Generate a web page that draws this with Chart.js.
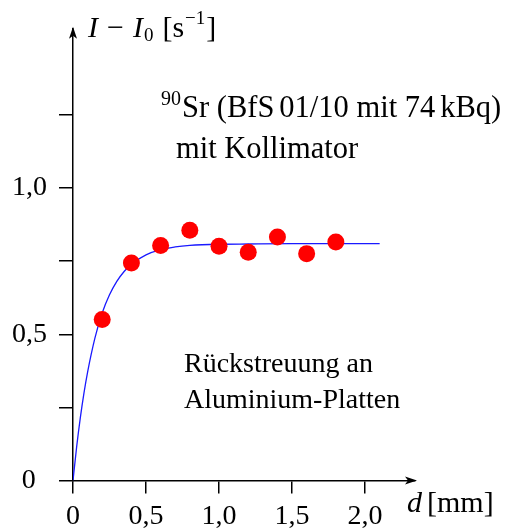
<!DOCTYPE html>
<html>
<head>
<meta charset="utf-8">
<script src="https://cdn.jsdelivr.net/npm/chart.js@4.4.0/dist/chart.umd.min.js"></script>
<style>
  html, body { margin: 0; padding: 0; background: #fff; }
</style>
</head>
<body>
<canvas id="chart" width="508" height="531"></canvas>
<script>
// measured points: Al thickness d [mm] vs. I - I0 [1/s]
const thickness = [0.2, 0.4, 0.6, 0.8, 1.0, 1.2, 1.4, 1.6, 1.8];
const rate = [0.551, 0.744, 0.804, 0.856, 0.801, 0.781, 0.833, 0.776, 0.816];

// fitted curve
const fitD = [0, 0.025, 0.05, 0.075, 0.1, 0.15, 0.2, 0.25, 0.3, 0.35, 0.4, 0.5, 0.6, 0.7, 0.8, 1.0, 1.2, 1.5, 1.8, 2.1];
const fitRate = [0, 0.115, 0.214, 0.299, 0.371, 0.487, 0.573, 0.635, 0.681, 0.715, 0.740, 0.772, 0.790, 0.799, 0.804, 0.808, 0.809, 0.810, 0.810, 0.810];

const xTicks = [0, 0.5, 1.0, 1.5, 2.0];
const xTickLabels = ['0', '0,5', '1,0', '1,5', '2,0'];
const yTicks = [0, 0.25, 0.5, 0.75, 1.0, 1.25];
const yTickLabels = ['0\u2009\u2009', '', '0,5', '', '1,0', ''];

const serif = '"Liberation Serif", "DejaVu Serif", serif';

function drawRuns(ctx, x, y, runs) {
  runs.forEach(r => {
    ctx.font = r.font;
    ctx.fillText(r.text, x, y + (r.dy || 0));
    x += ctx.measureText(r.text).width + (r.gap || 0);
  });
}

const extras = {
  id: 'extras',
  afterDraw(chart) {
    const ctx = chart.ctx;
    const a = chart.chartArea;
    ctx.save();
    ctx.fillStyle = '#000';
    ctx.textBaseline = 'alphabetic';
    ctx.textAlign = 'left';

    // arrow heads
    ctx.beginPath();
    ctx.moveTo(a.left, a.top - 2);
    ctx.lineTo(a.left - 4, a.top + 10);
    ctx.lineTo(a.left, a.top + 7);
    ctx.lineTo(a.left + 4, a.top + 10);
    ctx.closePath();
    ctx.fill();
    ctx.beginPath();
    ctx.moveTo(a.right + 2, a.bottom);
    ctx.lineTo(a.right - 10, a.bottom - 4);
    ctx.lineTo(a.right - 7, a.bottom);
    ctx.lineTo(a.right - 10, a.bottom + 4);
    ctx.closePath();
    ctx.fill();

    // axis titles
    drawRuns(ctx, 88, 37, [
      { text: 'I', font: 'italic 30px ' + serif, gap: 9 },
      { text: '\u2212', font: '30px ' + serif, gap: 9 },
      { text: 'I', font: 'italic 30px ' + serif, gap: 1 },
      { text: '0', font: '19px ' + serif, dy: 4, gap: 9 },
      { text: '[s', font: '30px ' + serif, gap: 1 },
      { text: '\u22121', font: '19px ' + serif, dy: -13, gap: 1 },
      { text: ']', font: '30px ' + serif }
    ]);
    drawRuns(ctx, 407, 512, [
      { text: 'd', font: 'italic 30px ' + serif, gap: 5 },
      { text: '[mm]', font: '30px ' + serif }
    ]);

    // annotations
    drawRuns(ctx, 161, 117, [
      { text: '90', font: '20px ' + serif, dy: -12, gap: 1 },
      { text: 'Sr (BfS', font: '30.5px ' + serif, gap: 5 },
      { text: '01/10 mit 74', font: '30.5px ' + serif, gap: 5 },
      { text: 'kBq)', font: '30.5px ' + serif }
    ]);
    drawRuns(ctx, 176, 158, [{ text: 'mit Kollimator', font: '30.5px ' + serif }]);
    drawRuns(ctx, 184, 372, [{ text: 'R\u00fcckstreuung an', font: '28px ' + serif }]);
    drawRuns(ctx, 184, 408, [{ text: 'Aluminium-Platten', font: '28px ' + serif }]);
    ctx.restore();
  }
};

new Chart(document.getElementById('chart'), {
  type: 'scatter',
  data: {
    datasets: [
      {
        label: 'Messwerte',
        data: thickness.map((d, i) => ({ x: d, y: rate[i] })),
        pointRadius: 8.5,
        pointHoverRadius: 8.5,
        backgroundColor: '#ff0000',
        borderWidth: 0,
        order: 1
      },
      {
        label: 'Fit',
        data: fitD.map((d, i) => ({ x: d, y: fitRate[i] })),
        showLine: true,
        pointRadius: 0,
        borderColor: '#1a1aff',
        borderWidth: 1.3,
        cubicInterpolationMode: 'monotone',
        order: 2
      }
    ]
  },
  options: {
    responsive: false,
    animation: false,
    devicePixelRatio: 1,
    layout: { padding: { top: 28, right: 93, left: 0, bottom: 0 } },
    plugins: { legend: { display: false }, tooltip: { enabled: false } },
    scales: {
      x: {
        type: 'linear',
        min: 0,
        max: 2.342,
        afterFit: s => { s.height = 50.5; },
        afterBuildTicks: s => { s.ticks = xTicks.map(v => ({ value: v })); },
        ticks: {
          autoSkip: false,
          maxRotation: 0,
          padding: 6,
          color: '#000',
          font: { family: serif, size: 28 },
          callback: (v, i) => xTickLabels[i]
        },
        grid: { drawOnChartArea: false, drawTicks: true, tickLength: 13, color: '#000', lineWidth: 1.5 },
        border: { display: true, color: '#000', width: 1.5 }
      },
      y: {
        type: 'linear',
        min: 0,
        max: 1.545,
        afterFit: s => { s.width = 73; },
        afterBuildTicks: s => { s.ticks = yTicks.map(v => ({ value: v })); },
        ticks: {
          autoSkip: false,
          padding: 12,
          color: '#000',
          font: { family: serif, size: 28 },
          callback: (v, i) => yTickLabels[i]
        },
        grid: { drawOnChartArea: false, drawTicks: true, tickLength: 14, color: '#000', lineWidth: 1.5 },
        border: { display: true, color: '#000', width: 1.5 }
      }
    }
  },
  plugins: [extras]
});
</script>
</body>
</html>
